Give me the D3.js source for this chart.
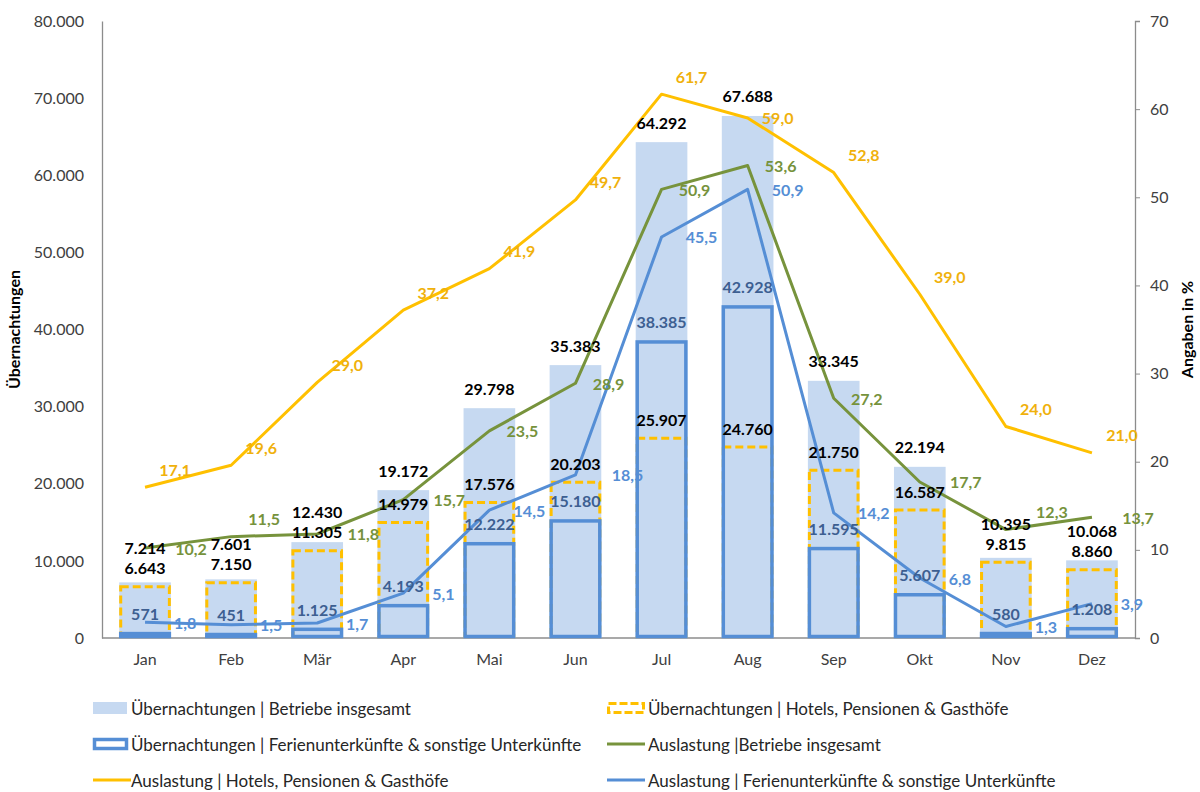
<!DOCTYPE html>
<html>
<head>
<meta charset="utf-8">
<script src="https://cdn.jsdelivr.net/npm/d3@7"></script>
<style>
  body { margin: 0; background: #fff; }
  svg { display: block; font-family: Lato, "Open Sans", sans-serif; }
</style>
</head>
<body>
<div class="chart"></div>
<script>
var months = ["Jan", "Feb", "Mär", "Apr", "Mai", "Jun", "Jul", "Aug", "Sep", "Okt", "Nov", "Dez"];
var totalNights = [7214, 7601, 12430, 19172, 29798, 35383, 64292, 67688, 33345, 22194, 10395, 10068];
var hotelNights = [6643, 7150, 11305, 14979, 17576, 20203, 25907, 24760, 21750, 16587, 9815, 8860];
var holidayNights = [571, 451, 1125, 4193, 12222, 15180, 38385, 42928, 11595, 5607, 580, 1208];
var occTotal = [10.2, 11.5, 11.8, 15.7, 23.5, 28.9, 50.9, 53.6, 27.2, 17.7, 12.3, 13.7];
var occHotel = [17.1, 19.6, 29.0, 37.2, 41.9, 49.7, 61.7, 59.0, 52.8, 39.0, 24.0, 21.0];
var occHoliday = [1.8, 1.5, 1.7, 5.1, 14.5, 18.5, 45.5, 50.9, 14.2, 6.8, 1.3, 3.9];
var leftTicks = [0, 10000, 20000, 30000, 40000, 50000, 60000, 70000, 80000];
var rightTicks = [0, 10, 20, 30, 40, 50, 60, 70];

var width = 1200, height = 792;
var plot = { left: 102, right: 1135, top: 21, bottom: 638 };

var de = d3.formatLocale({ decimal: ",", thousands: ".", grouping: [3], currency: ["", " €"] });
var fmtInt = de.format(",d");
var fmtPct = de.format(".1f");

var lightBlue = "#C6D9F1", blue = "#558ED5", gold = "#FFC000", green = "#77933C";

var x = d3.scaleBand()
    .domain(months)
    .range([plot.left, plot.right])
    .paddingInner(0.4)
    .paddingOuter(0.2);
var y = d3.scaleLinear().domain([0, 80000]).range([plot.bottom, plot.top]);
var y2 = d3.scaleLinear().domain([0, 70]).range([plot.bottom, plot.top]);
var cx = m => x(m) + x.bandwidth() / 2;

var svg = d3.select(".chart").append("svg")
    .attr("width", width)
    .attr("height", height);

// axes
var leftAxis = svg.append("g")
    .attr("transform", "translate(" + plot.left + ",0)")
    .call(d3.axisLeft(y).tickValues(leftTicks).tickSize(0).tickPadding(18).tickFormat(fmtInt));
var rightAxis = svg.append("g")
    .attr("transform", "translate(" + plot.right + ",0)")
    .call(d3.axisRight(y2).tickValues(rightTicks).tickSize(5).tickPadding(10));
var bottomAxis = svg.append("g")
    .attr("transform", "translate(0," + plot.bottom + ")")
    .call(d3.axisBottom(x).tickSize(0).tickPadding(16));

[leftAxis, rightAxis, bottomAxis].forEach(function (g) {
    g.select(".domain").attr("stroke", "#8C8C8C").attr("stroke-width", 1.3);
    g.selectAll(".tick line").attr("stroke", "#8C8C8C");
    g.selectAll(".tick text")
        .attr("font-size", "16px")
        .attr("font-family", "Lato, sans-serif")
        .attr("fill", "#404040");
});
bottomAxis.select(".domain").attr("d", "M" + plot.left + ",0H" + plot.right);

svg.append("text")
    .attr("transform", "translate(20," + ((plot.top + plot.bottom) / 2) + ") rotate(-90)")
    .attr("text-anchor", "middle")
    .attr("font-size", "16px")
    .attr("font-weight", "bold")
    .text("Übernachtungen");
svg.append("text")
    .attr("transform", "translate(1193," + ((plot.top + plot.bottom) / 2) + ") rotate(-90)")
    .attr("text-anchor", "middle")
    .attr("font-size", "16px")
    .attr("font-weight", "bold")
    .text("Angaben in %");

// bars
var rows = months.map((m, i) => ({
    m: m, total: totalNights[i], hotel: hotelNights[i], holiday: holidayNights[i],
    oT: occTotal[i], oH: occHotel[i], oF: occHoliday[i]
}));

svg.selectAll(".bar-total")
    .data(rows)
    .enter().append("rect")
    .attr("x", d => x(d.m))
    .attr("y", d => y(d.total))
    .attr("width", x.bandwidth())
    .attr("height", d => y(0) - y(d.total))
    .attr("fill", lightBlue);

svg.selectAll(".bar-hotel")
    .data(rows)
    .enter().append("rect")
    .attr("x", d => x(d.m) + 1.5)
    .attr("y", d => y(d.hotel))
    .attr("width", x.bandwidth() - 3)
    .attr("height", d => y(0) - y(d.hotel) - 1.5)
    .attr("fill", "none")
    .attr("stroke", gold)
    .attr("stroke-width", 3)
    .attr("stroke-dasharray", "8,4");

svg.selectAll(".bar-holiday")
    .data(rows)
    .enter().append("rect")
    .attr("x", d => x(d.m) + 1.5)
    .attr("y", d => y(d.holiday))
    .attr("width", x.bandwidth() - 3)
    .attr("height", d => y(0) - y(d.holiday) - 1.5)
    .attr("fill", "none")
    .attr("stroke", blue)
    .attr("stroke-width", 3.5);

// lines
var lineSeries = [
    { key: "oF", color: blue, labelColor: "#558ED5",
      tries: [[40, 0], [40, -16], [52, 0], [40, 16], [40, -28]] },
    { key: "oT", color: green, labelColor: "#76923C",
      tries: [[33, 0], [46, 0], [33, -18], [33, 16], [46, -18], [33, -30]] },
    { key: "oH", color: gold, labelColor: "#F0B10C",
      tries: [[30, -18], [30, 0], [30, -30], [30, -45], [30, 16]] }
];

lineSeries.slice().reverse().forEach(function (s) {
    svg.append("path")
        .datum(rows)
        .attr("fill", "none")
        .attr("stroke", s.color)
        .attr("stroke-width", 3)
        .attr("stroke-linejoin", "round")
        .attr("d", d3.line().x(d => cx(d.m)).y(d => y2(d[s.key])));
});

// labels
var placed = [];
function label(px, py, txt, color) {
    return svg.append("text")
        .attr("x", px)
        .attr("y", py)
        .attr("text-anchor", "middle")
        .attr("dominant-baseline", "central")
        .attr("font-size", "16px")
        .attr("font-weight", "bold")
        .attr("fill", color)
        .text(txt);
}
function box(t) {
    var b = t.node().getBBox();
    return { x0: b.x, x1: b.x + b.width, y0: b.y + 2, y1: b.y + b.height - 2 };
}
function hits(b) {
    return placed.some(p => b.x0 < p.x1 && b.x1 > p.x0 && b.y0 < p.y1 && b.y1 > p.y0);
}

rows.forEach(function (d) {
    var hy = y(d.hotel) - 19;
    var ty = Math.min(y(d.total) - 20, hy - 20);
    placed.push(box(label(cx(d.m), ty, fmtInt(d.total), "#000")));
    placed.push(box(label(cx(d.m), hy, fmtInt(d.hotel), "#000")));
    placed.push(box(label(cx(d.m), y(d.holiday) - 20, fmtInt(d.holiday), "#3D5F91")));
});

lineSeries.forEach(function (s) {
    rows.forEach(function (d) {
        var px = cx(d.m), py = y2(d[s.key]);
        var t = label(px + s.tries[0][0], py + s.tries[0][1], fmtPct(d[s.key]), s.labelColor);
        for (var k = 0; k < s.tries.length; k++) {
            t.attr("x", px + s.tries[k][0]).attr("y", py + s.tries[k][1]);
            if (!hits(box(t))) break;
        }
        if (k === s.tries.length) t.attr("x", px + s.tries[0][0]).attr("y", py + s.tries[0][1]);
        placed.push(box(t));
    });
});

// legend
var legendItems = [
    { text: "Übernachtungen | Betriebe insgesamt", type: "fill" },
    { text: "Übernachtungen | Hotels, Pensionen & Gasthöfe", type: "dash" },
    { text: "Übernachtungen | Ferienunterkünfte & sonstige Unterkünfte", type: "outline" },
    { text: "Auslastung |Betriebe insgesamt", type: "line", color: green },
    { text: "Auslastung | Hotels, Pensionen & Gasthöfe", type: "line", color: gold },
    { text: "Auslastung | Ferienunterkünfte & sonstige Unterkünfte", type: "line", color: blue }
];

var legend = svg.append("g");
legendItems.forEach(function (it, i) {
    var lx = i % 2 === 0 ? 93 : 607;
    var ly = 708 + Math.floor(i / 2) * 36;
    var g = legend.append("g").attr("transform", "translate(" + lx + "," + ly + ")");
    if (it.type === "fill") {
        g.append("rect").attr("x", 0).attr("y", -6).attr("width", 34).attr("height", 12).attr("fill", lightBlue);
    } else if (it.type === "dash") {
        g.append("rect").attr("x", 1.5).attr("y", -4.5).attr("width", 35).attr("height", 9)
            .attr("fill", "none").attr("stroke", gold).attr("stroke-width", 3).attr("stroke-dasharray", "8,3");
    } else if (it.type === "outline") {
        g.append("rect").attr("x", 1.5).attr("y", -4.5).attr("width", 32).attr("height", 9)
            .attr("fill", "none").attr("stroke", blue).attr("stroke-width", 3.5);
    } else {
        g.append("line").attr("x1", 0).attr("x2", 38).attr("y1", 0).attr("y2", 0)
            .attr("stroke", it.color).attr("stroke-width", 3);
    }
    g.append("text")
        .attr("x", i % 2 === 0 ? 38 : 41)
        .attr("y", 0)
        .attr("dominant-baseline", "central")
        .attr("font-size", "17px")
        .attr("fill", "#262626")
        .text(it.text);
});
</script>
</body>
</html>
